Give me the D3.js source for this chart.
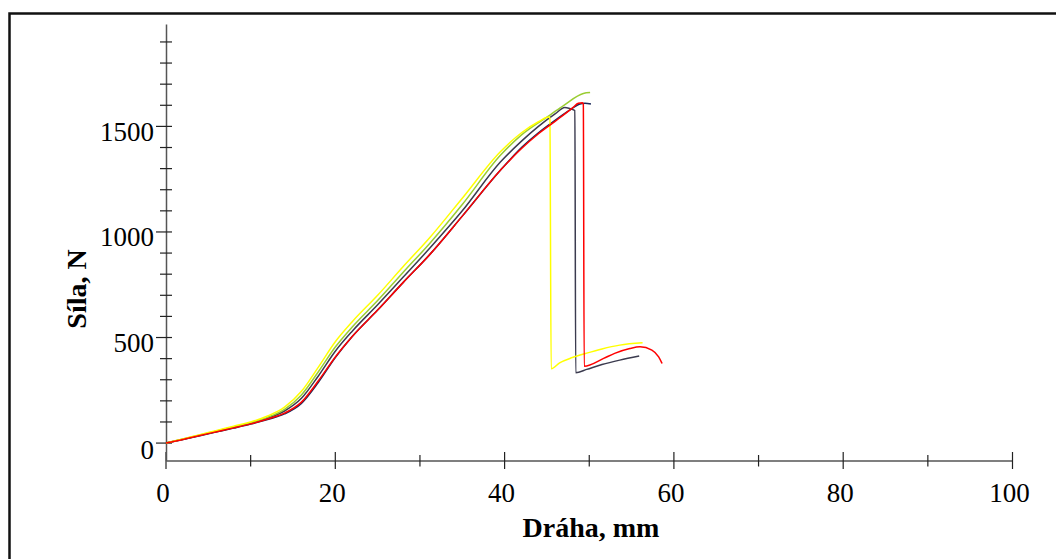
<!DOCTYPE html>
<html>
<head>
<meta charset="utf-8">
<script src="https://cdn.jsdelivr.net/npm/d3@7"></script>
<style>
  html, body { margin: 0; padding: 0; background: #fff; }
  svg { display: block; }
</style>
</head>
<body>
<svg id="chart" width="1056" height="559"></svg>
<script>
// ---- data (x: Dráha, mm ; y: Síla, N) ----
const xTickLabels = [0, 20, 40, 60, 80, 100];
const xMinorTicks = [10, 30, 50, 70, 90];
const yTickLabels = [0, 500, 1000, 1500];
const yMinorTicks = [100, 200, 300, 400, 600, 700, 800, 900, 1100, 1200, 1300, 1400, 1600, 1700, 1800, 1900];

const seriesYellow = [[0,0],[2,20],[4,40],[6,60],[8,80],[10,100],[12,128],[14,170],[16,245],[18,360],[20,480],[22,575],[25,700],[28,835],[31.2,975],[35,1160],[39.5,1380],[42,1470],[44,1522],[45.2,1545],[45.35,1540],[45.5,352],[46.5,380],[48,405],[49.7,426],[51.5,446],[53.6,464],[56.3,475]];
const seriesGreen = [[0,0],[2,19],[4,38],[6,57],[8,77],[10,97],[12,122],[14,160],[16,228],[18,338],[20,455],[22,550],[25,675],[28,808],[31.2,948],[35,1130],[39.5,1363],[42,1460],[45.4,1555],[47,1600],[49.3,1656],[50.1,1660]];
const seriesBlack = [[0,0],[2,18],[4,37],[6,55],[8,74],[10,94],[12,118],[14,152],[16,212],[18,318],[20,435],[22,530],[25,655],[28,785],[31.2,925],[35,1100],[39.5,1331],[42,1430],[44,1500],[46,1560],[47.1,1590],[47.8,1583],[48.3,1575],[48.4,333],[49.7,349],[51.5,372],[53.6,393],[55.9,412]];
const seriesNavy = [[0,0],[2,17],[4,35],[6,53],[8,71],[10,90],[12,112],[14,138],[16,188],[18,288],[20,405],[22,505],[25,630],[28,760],[31.2,895],[35,1075],[39.5,1292],[42,1400],[44,1470],[46,1530],[48,1585],[48.8,1605],[49.5,1610],[50.2,1606]];
const seriesRed = [[0,0],[2,17],[4,36],[6,54],[8,72],[10,91],[12,114],[14,142],[16,194],[18,295],[20,408],[22,505],[25,630],[28,760],[31.2,895],[35,1075],[39.5,1292],[42,1395],[44,1465],[46,1525],[48.1,1590],[48.7,1610],[49.2,1612],[49.3,1605],[49.4,364],[51.7,401],[53,425],[54.8,448],[56,456],[57.4,440],[58.2,408],[58.6,377]];

const seriesList = [
  { name: "navy", data: seriesNavy, color: "#1c2a5a" },
  { name: "black", data: seriesBlack, color: "#3b3b4f" },
  { name: "green", data: seriesGreen, color: "#9acd32" },
  { name: "yellow", data: seriesYellow, color: "#ffff00" },
  { name: "red", data: seriesRed, color: "#ff0000" }
];

const svg = d3.select("#chart");

// frame
svg.append("rect")
  .attr("x", 9.5).attr("y", 13.5)
  .attr("width", 1100).attr("height", 600)
  .attr("fill", "none").attr("stroke", "#111").attr("stroke-width", 2.5);

const x = d3.scaleLinear().domain([0, 100]).range([166, 1012.5]);
const y = d3.scaleLinear().domain([-82.5, 1985]).range([460.5, 24]);

const axisColor = "#555";
const font = "'Liberation Serif', 'Times New Roman', serif";

// x axis (line + ticks)
const xAxisY = 460.5;
const gx = svg.append("g").attr("transform", `translate(0,${xAxisY})`);
gx.call(d3.axisBottom(x).tickValues([]).tickSizeOuter(0));
gx.select(".domain").attr("stroke", axisColor).attr("stroke-width", 1.5);
gx.selectAll(".tickMajor").data(xTickLabels).enter().append("line")
  .attr("x1", d => x(d)).attr("x2", d => x(d)).attr("y1", -8.5).attr("y2", 8.5)
  .attr("stroke", "#222").attr("stroke-width", 1.2);
gx.selectAll(".tickMinor").data(xMinorTicks).enter().append("line")
  .attr("x1", d => x(d)).attr("x2", d => x(d)).attr("y1", -5.5).attr("y2", 6)
  .attr("stroke", "#222").attr("stroke-width", 1.2);
gx.selectAll(".lab").data(xTickLabels).enter().append("text")
  .attr("x", d => x(d) - 3).attr("y", 41.5)
  .attr("text-anchor", "middle")
  .attr("font-family", font).attr("font-size", 27).attr("fill", "#000")
  .text(d => d);

// y axis
const yAxisX = 166;
const gy = svg.append("g").attr("transform", `translate(${yAxisX},0)`);
gy.call(d3.axisLeft(y).tickValues([]).tickSizeOuter(0));
gy.select(".domain").attr("stroke", axisColor).attr("stroke-width", 1.5);
gy.selectAll(".tickMajor").data(yTickLabels).enter().append("line")
  .attr("x1", -10).attr("x2", 6).attr("y1", d => y(d)).attr("y2", d => y(d))
  .attr("stroke", "#222").attr("stroke-width", 1.2);
gy.selectAll(".tickMinor").data(yMinorTicks).enter().append("line")
  .attr("x1", -6).attr("x2", 6).attr("y1", d => y(d)).attr("y2", d => y(d))
  .attr("stroke", "#222").attr("stroke-width", 1.2);
gy.selectAll(".lab").data(yTickLabels).enter().append("text")
  .attr("x", -12).attr("y", d => y(d) + (d === 0 ? 16 : 14.5))
  .attr("text-anchor", "end")
  .attr("font-family", font).attr("font-size", 27).attr("fill", "#000")
  .text(d => d);

// axis titles
svg.append("text")
  .attr("x", 591).attr("y", 536.5)
  .attr("text-anchor", "middle")
  .attr("font-family", font).attr("font-size", 28).attr("font-weight", "bold")
  .text("Dráha, mm");
svg.append("text")
  .attr("transform", "translate(85.5,289) rotate(-90)")
  .attr("text-anchor", "middle")
  .attr("font-family", font).attr("font-size", 28).attr("font-weight", "bold")
  .text("Síla, N");

// lines
const line = d3.line().x(d => x(d[0])).y(d => y(d[1])).curve(d3.curveMonotoneX);
svg.append("g").selectAll("path").data(seriesList).enter().append("path")
  .attr("d", d => line(d.data))
  .attr("fill", "none")
  .attr("stroke", d => d.color)
  .attr("stroke-width", 1.5)
  .attr("stroke-linejoin", "round");
</script>
</body>
</html>
